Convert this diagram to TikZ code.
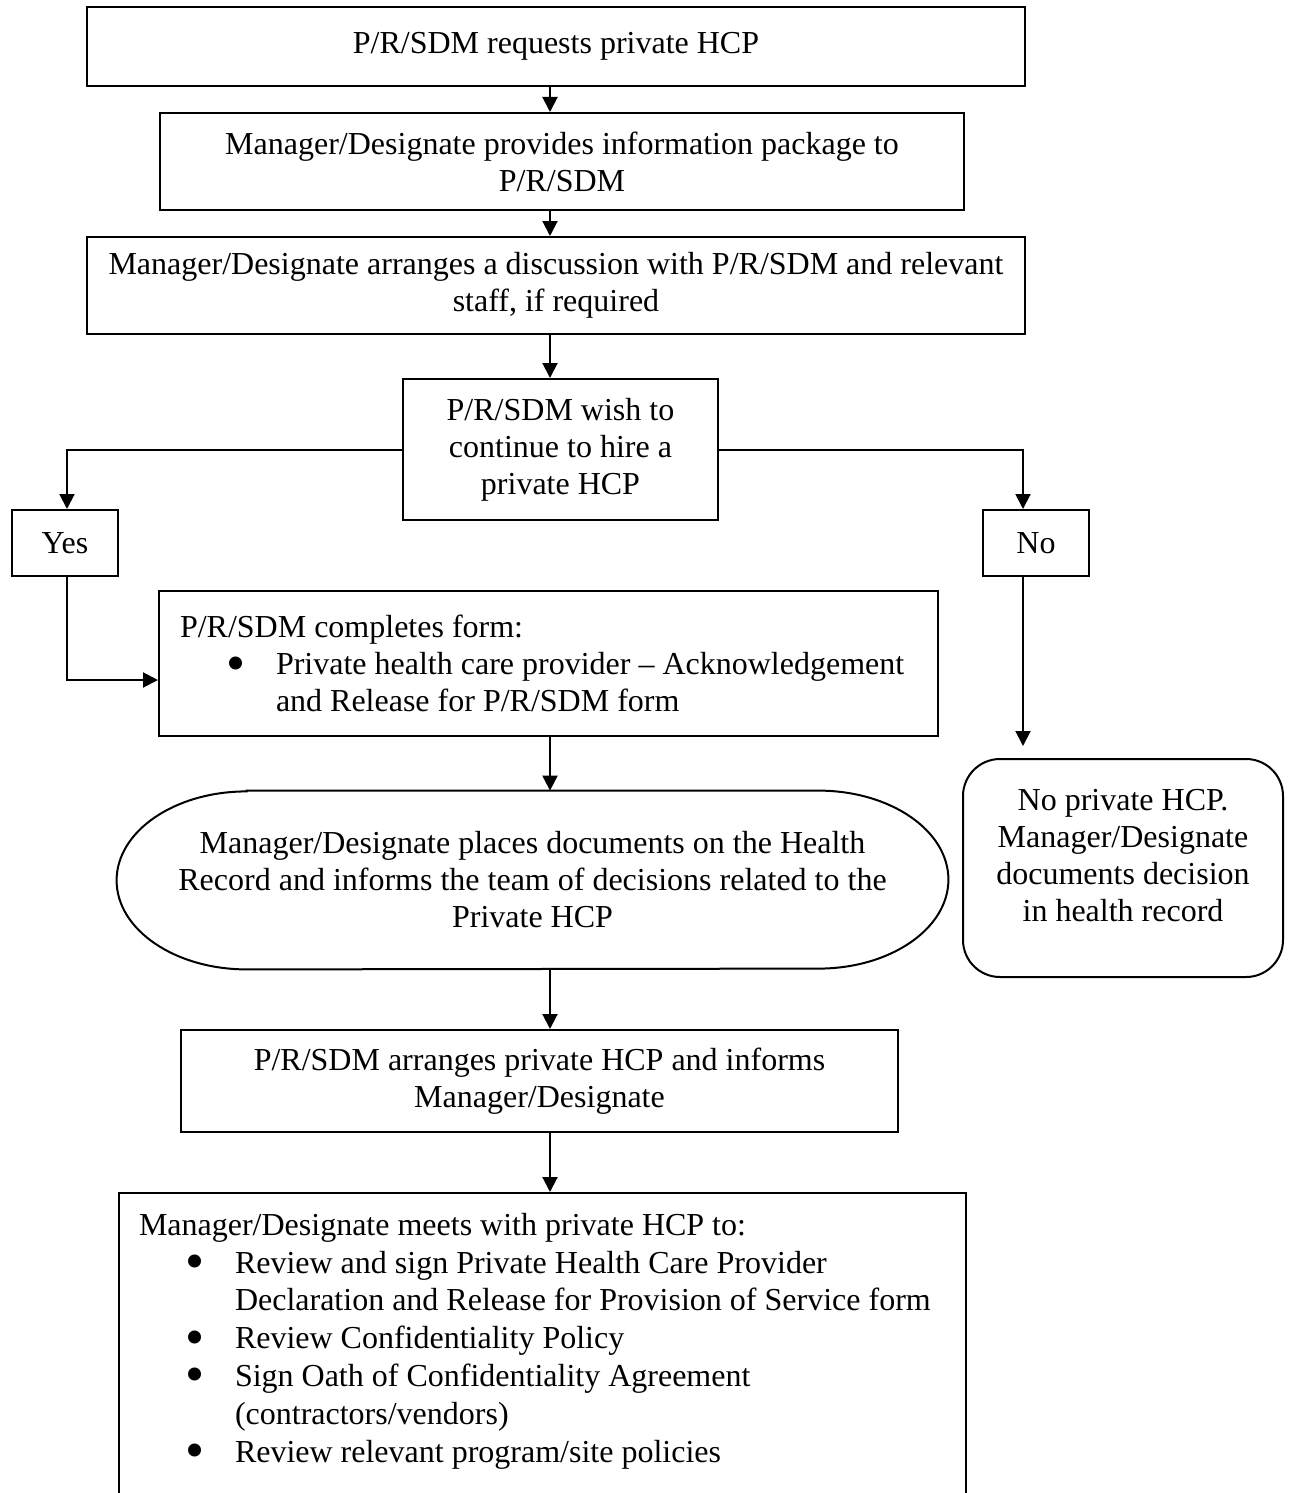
\documentclass[tikz,border=0pt]{standalone}
\usepackage{fontspec}
\setmainfont{Liberation Serif}
\usetikzlibrary{arrows.meta, calc}
\tikzstyle{box} = [rectangle, draw=black, line width=1pt, align=center, inner sep=2pt, font=\fontsize{16}{18.5}\selectfont]
\tikzstyle{stadium} = [rectangle, draw=none, align=center, inner sep=2pt, font=\fontsize{16}{18.5}\selectfont]
\tikzstyle{arrow} = [line width=1pt, -{Triangle[length=7.5pt, width=7.5pt]}]
\newcommand{\bitem}[1]{\par\hangindent=48pt\hangafter=1\noindent\hspace*{23pt}\makebox[25pt][l]{\smash{\raisebox{-3.2pt}{\scalebox{1.7}{\textbullet}}}}#1}

\begin{document}
\begin{tikzpicture}[x=0.5pt, y=-0.5pt]
  \useasboundingbox (0,0) rectangle (1292,1493);
  \coordinate (spine) at (550,0);

  \node[box, minimum width=469pt, minimum height=39.5pt] (request) at (556,46.5) {P/R/SDM requests private HCP};
  \node[box, minimum width=402pt, minimum height=48.5pt] (info) at (562,161.5) {Manager/Designate provides information package to\\P/R/SDM};
  \node[box, minimum width=469pt, minimum height=48.5pt] (discuss) at (556,285.5) {Manager/Designate arranges a discussion with P/R/SDM and relevant\\staff, if required};
  \node[box, minimum width=157.5pt, minimum height=70.5pt] (wish) at (560.5,449.5) {P/R/SDM wish to\\continue to hire a\\private HCP};
  \node[box, minimum width=53pt, minimum height=33pt] (yes) at (65,543) {Yes};
  \node[box, minimum width=53pt, minimum height=33pt] (no) at (1036,543) {No};
  \node[box, inner xsep=10.5pt, minimum height=72.5pt] (form) at (548.5,663.5) {\parbox{368.5pt}{\noindent P/R/SDM completes form:\bitem{Private health care provider – Acknowledgement\newline and Release for P/R/SDM form}}};
  \node[stadium, minimum width=415.5pt, minimum height=89pt] (place) at (532.5,880) {Manager/Designate places documents on the Health\\Record and informs the team of decisions related to the\\Private HCP};
  \draw[line width=1pt] ([xshift=65pt]place.north west) -- ([xshift=-65pt]place.north east)
    arc[start angle=90, end angle=-90, x radius=65pt, y radius=44.5pt]
    -- ([xshift=65pt]place.south west)
    arc[start angle=270, end angle=90, x radius=65pt, y radius=44.5pt] -- cycle;
  \node[box, rounded corners=18.5pt, minimum width=160pt, minimum height=109pt] (nohcp) at (1123,868) {\parbox{150pt}{\centering No private HCP.\\Manager/Designate\\documents decision\\in health record\par\vspace{12pt}}};
  \node[box, minimum width=358.5pt, minimum height=51pt] (arrange) at (539.5,1081) {P/R/SDM arranges private HCP and informs\\Manager/Designate};
  \node[box, anchor=north west, inner xsep=10pt, inner ysep=10pt] (meet) at (118,1192) {\parbox[c][200pt][t]{403.5pt}{\fontsize{16}{18.9}\selectfont\noindent Manager/Designate meets with private HCP to:\bitem{Review and sign Private Health Care Provider\newline Declaration and Release for Provision of Service form}\bitem{Review Confidentiality Policy}\bitem{Sign Oath of Confidentiality Agreement\newline (contractors/vendors)}\bitem{Review relevant program/site policies}}};

  \draw[arrow] (request.south -| spine) -- (info.north -| spine);
  \draw[arrow] (info.south -| spine) -- (discuss.north -| spine);
  \draw[arrow] (discuss.south -| spine) -- (wish.north -| spine);
  \draw[arrow] (wish.west) -| ([xshift=1pt]yes.north);
  \draw[arrow] (wish.east) -| ([xshift=-6.5pt]no.north);
  \draw[arrow] ([xshift=1pt]yes.south) |- ([yshift=-8.25pt]form.west);
  \draw[arrow, shorten >=6pt] ([xshift=-6.5pt]no.south) -- ([xshift=-6.5pt]no.south |- nohcp.north);
  \draw[arrow] (form.south -| spine) -- (place.north -| spine);
  \draw[arrow] (place.south -| spine) -- (arrange.north -| spine);
  \draw[arrow] (arrange.south -| spine) -- (meet.north -| spine);
\end{tikzpicture}
\end{document}
